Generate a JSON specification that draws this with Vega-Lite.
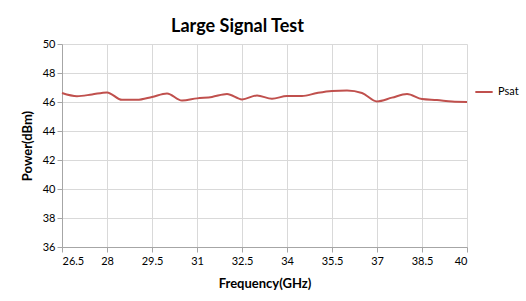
{
  "$schema": "https://vega.github.io/schema/vega-lite/v6.json",
  "width": 405,
  "height": 203,
  "autosize": {"type": "none"},
  "padding": {"left": 62, "top": 44, "right": 59, "bottom": 54},
  "background": "white",
  "title": {"text": "Large Signal Test", "font": "Lato", "fontSize": 18, "fontWeight": "bold", "color": "#000000", "offset": 2, "dx": -27},
  "data": {"values": [
    {"f": 26.5, "p": 46.62, "s": "Psat"},
    {"f": 27.0, "p": 46.40, "s": "Psat"},
    {"f": 27.5, "p": 46.52, "s": "Psat"},
    {"f": 28.0, "p": 46.66, "s": "Psat"},
    {"f": 28.5, "p": 46.15, "s": "Psat"},
    {"f": 29.0, "p": 46.15, "s": "Psat"},
    {"f": 29.5, "p": 46.35, "s": "Psat"},
    {"f": 30.0, "p": 46.59, "s": "Psat"},
    {"f": 30.5, "p": 46.10, "s": "Psat"},
    {"f": 31.0, "p": 46.25, "s": "Psat"},
    {"f": 31.5, "p": 46.35, "s": "Psat"},
    {"f": 32.0, "p": 46.55, "s": "Psat"},
    {"f": 32.5, "p": 46.18, "s": "Psat"},
    {"f": 33.0, "p": 46.45, "s": "Psat"},
    {"f": 33.5, "p": 46.22, "s": "Psat"},
    {"f": 34.0, "p": 46.42, "s": "Psat"},
    {"f": 34.5, "p": 46.41, "s": "Psat"},
    {"f": 35.0, "p": 46.62, "s": "Psat"},
    {"f": 35.5, "p": 46.76, "s": "Psat"},
    {"f": 36.0, "p": 46.79, "s": "Psat"},
    {"f": 36.5, "p": 46.62, "s": "Psat"},
    {"f": 37.0, "p": 46.04, "s": "Psat"},
    {"f": 37.5, "p": 46.30, "s": "Psat"},
    {"f": 38.0, "p": 46.55, "s": "Psat"},
    {"f": 38.5, "p": 46.20, "s": "Psat"},
    {"f": 39.0, "p": 46.13, "s": "Psat"},
    {"f": 39.5, "p": 46.03, "s": "Psat"},
    {"f": 40.0, "p": 46.00, "s": "Psat"}
  ]},
  "mark": {"type": "line", "interpolate": "monotone", "strokeWidth": 2},
  "encoding": {
    "x": {"field": "f", "type": "quantitative", "title": "Frequency(GHz)",
      "scale": {"domain": [26.5, 40], "nice": false, "zero": false},
      "axis": {"values": [26.5, 28, 29.5, 31, 32.5, 34, 35.5, 37, 38.5, 40], "format": ".1~f", "labelPadding": 3, "titlePadding": 11}},
    "y": {"field": "p", "type": "quantitative", "title": "Power(dBm)",
      "scale": {"domain": [36, 50], "nice": false, "zero": false},
      "axis": {"values": [36, 38, 40, 42, 44, 46, 48, 50], "labelPadding": 2, "titlePadding": 8}},
    "color": {"field": "s", "type": "nominal", "title": null,
      "scale": {"range": ["#c0504d"]},
      "legend": {"orient": "none", "legendX": 412, "legendY": 38, "symbolType": "stroke", "symbolSize": 300, "symbolStrokeWidth": 2, "labelFont": "Lato", "labelFontSize": 11, "labelColor": "#000000"}}
  },
  "config": {
    "view": {"stroke": null},
    "axis": {
      "labelFont": "Lato", "labelFontSize": 11, "labelColor": "#000000",
      "titleFont": "Lato", "titleFontSize": 13, "titleFontWeight": "bold", "titleColor": "#000000",
      "gridColor": "#d9d9d9", "gridWidth": 1, "domainColor": "#a6a6a6", "tickColor": "#a6a6a6", "tickSize": 5
    }
  }
}
